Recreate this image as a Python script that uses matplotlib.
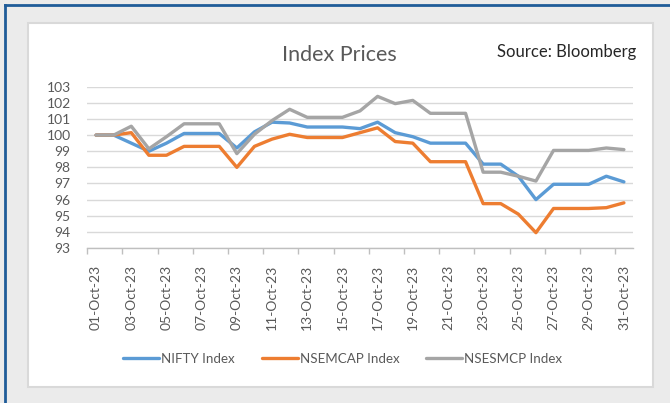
import matplotlib
matplotlib.use('Agg')
import matplotlib.pyplot as plt
import matplotlib.dates as mdates
from matplotlib.patches import Rectangle
from matplotlib.lines import Line2D
import pandas as pd

plt.rcParams['font.family'] = ['Lato', 'DejaVu Sans']

# Daily index levels for October 2023 (rebased to 100, weekends/holidays carried)
dates = pd.date_range('2023-10-01', '2023-10-31', freq='D')
nifty = [100, 100, 99.5, 99.0, 99.5, 100.1, 100.1, 100.1, 99.2, 100.2,
         100.8, 100.75, 100.5, 100.5, 100.5, 100.4, 100.8, 100.15, 99.9, 99.5,
         99.5, 99.5, 98.2, 98.2, 97.45, 96.0, 96.95, 96.95, 96.95, 97.45, 97.1]
nsemcap = [100, 100, 100.15, 98.75, 98.75, 99.3, 99.3, 99.3, 98.0, 99.3,
           99.75, 100.05, 99.85, 99.85, 99.85, 100.15, 100.45, 99.6, 99.5, 98.35,
           98.35, 98.35, 95.75, 95.75, 95.1, 93.95, 95.45, 95.45, 95.45, 95.5, 95.8]
nsesmcp = [100, 100, 100.55, 99.15, 99.9, 100.7, 100.7, 100.7, 98.85, 100.05,
           100.9, 101.6, 101.1, 101.1, 101.1, 101.5, 102.4, 101.95, 102.15, 101.35,
           101.35, 101.35, 97.7, 97.7, 97.45, 97.15, 99.05, 99.05, 99.05, 99.2, 99.1]
series_names = ['NIFTY Index', 'NSEMCAP Index', 'NSESMCP Index']
series_colors = ['#5b9bd5', '#ed7d31', '#a5a5a5']
y_ticks = list(range(93, 104))

W, H = 670, 403
fig = plt.figure(figsize=(6.7, 4.03), dpi=100, facecolor='#ebebeb')

# white chart box and outer blue frame
fig.add_artist(Rectangle((27.5 / W, 1 - 387 / H), 625.5 / W, 364 / H,
                         transform=fig.transFigure, facecolor='white',
                         edgecolor='#d9d9d9', lw=1.5, zorder=0))
fig.add_artist(Line2D([5 / W, 5 / W], [0, 1 - 5 / H], transform=fig.transFigure,
                      color='#1f5c99', lw=2))
fig.add_artist(Line2D([5 / W, 1], [1 - 5 / H, 1 - 5 / H], transform=fig.transFigure,
                      color='#1f5c99', lw=2))

ax = fig.add_axes([87.3 / W, 1 - 248 / H, (632.7 - 87.3) / W, (248 - 86.7) / H])
ax.set_facecolor('none')

for vals, name, c in zip([nifty, nsemcap, nsesmcp], series_names, series_colors):
    ax.plot(dates, vals, color=c, lw=2.4, label=name, solid_joinstyle='round',
            solid_capstyle='round')

half = pd.Timedelta(hours=12)
ax.set_xlim(dates[0] - half, dates[-1] + half)
ax.set_ylim(93, 103)
ax.set_yticks(y_ticks)
ax.yaxis.grid(True, color='#d9d9d9', lw=1)
ax.set_axisbelow(True)

label_dates = dates[::2]
ax.set_xticks(label_dates)
ax.set_xticklabels([d.strftime('%d-%b-%y') for d in label_dates], rotation=90)
ax.set_xticks([d - half for d in label_dates], minor=True)
ax.tick_params(axis='x', which='major', length=0, pad=12, labelsize=10,
               labelcolor='#595959')
ax.tick_params(axis='x', which='minor', length=4.5, color='#bfbfbf', width=1,
               direction='out')
ax.tick_params(axis='y', length=0, pad=12, labelsize=10, labelcolor='#595959')

for s in ['top', 'right', 'left']:
    ax.spines[s].set_visible(False)
ax.spines['bottom'].set_color('#bfbfbf')
ax.spines['bottom'].set_linewidth(1)

fig.text(339.7 / W, 1 - 61 / H, 'Index Prices', ha='center', va='baseline',
         fontsize=15.5, color='#595959')
fig.text(636 / W, 1 - 57 / H, 'Source: Bloomberg', ha='right', va='baseline',
         fontsize=12, color='#262626')

fig.legend(loc='center', bbox_to_anchor=(342.5 / W, 1 - 359 / H), ncol=3,
           frameon=False, fontsize=9.6, labelcolor='#595959', handlelength=2.7,
           handletextpad=0.15, columnspacing=2.0)

fig.savefig('out.png', dpi=100, facecolor=fig.get_facecolor())
